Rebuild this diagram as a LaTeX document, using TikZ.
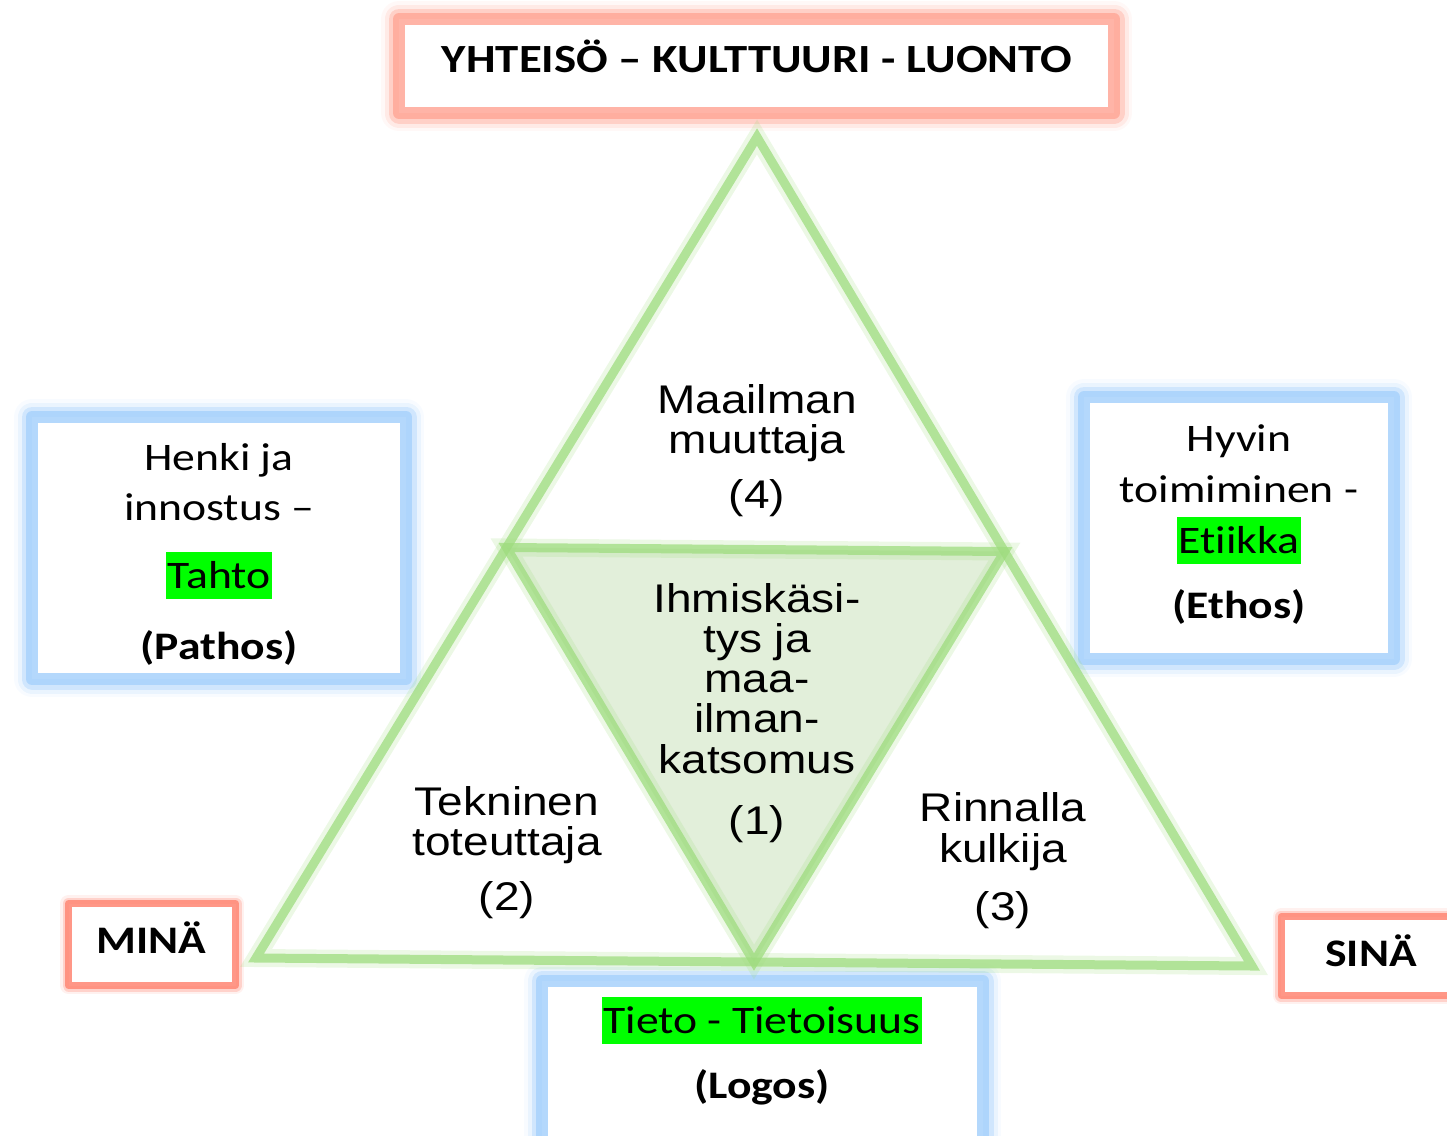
\documentclass[tikz,border=0pt]{standalone}
\usepackage{fontspec}
\setmainfont{Carlito}[FakeStretch=1.17, Ligatures=NoCommon]
\newfontfamily\trifont{Liberation Sans}[FakeStretch=1.15]
\usetikzlibrary{calc}

\definecolor{glowred}{RGB}{255,168,152}
\definecolor{edgered}{RGB}{255,140,122}
\definecolor{glowblue}{RGB}{168,210,252}
\definecolor{greenline}{RGB}{158,220,126}
\definecolor{innerfill}{RGB}{226,239,218}
\definecolor{hlgreen}{RGB}{0,255,0}

% green marker behind a word
\newcommand{\hlt}[1]{{\setlength{\fboxsep}{0pt}\colorbox{hlgreen}{\kern2pt\rule[-11pt]{0pt}{47pt}#1\kern2pt}}}

\begin{document}
\begin{tikzpicture}[x=1pt, y=-1pt,
    glowbox/.style={fill=white, line width=12pt, line join=round, draw opacity=.85,
        preaction={draw=#1, line width=36pt, draw opacity=.08, line join=round},
        preaction={draw=#1, line width=29pt, draw opacity=.18, line join=round},
        preaction={draw=#1, line width=21pt, draw opacity=.4, line join=round},
        draw=#1},
    thinbox/.style={fill=white, draw=edgered, line width=7pt, line join=round, draw opacity=.9,
        preaction={draw=edgered, line width=17pt, draw opacity=.12, line join=round},
        preaction={draw=edgered, line width=12pt, draw opacity=.3, line join=round}},
    boxtext/.style={anchor=base, inner sep=0pt, font=\fontsize{39}{47}\selectfont},
    tritext/.style={anchor=base, inner sep=0pt, font=\trifont\fontsize{40}{48}\selectfont},
    triline/.style={draw=greenline, line width=9pt, line join=miter, draw opacity=.75,
        preaction={draw=greenline, line width=18pt, draw opacity=.2}}]

    \useasboundingbox (0,0) rectangle (1447,1135);

    % Boxes round the triangle
    \node[glowbox=glowred, minimum width=715pt, minimum height=94pt] (topbox) at (756.5,66) {};
    \node[glowbox=glowblue, minimum width=374pt, minimum height=262pt] (pathosbox) at (219,548) {};
    \node[glowbox=glowblue, minimum width=310pt, minimum height=262pt] (ethosbox) at (1239,528) {};
    \node[glowbox=glowblue, minimum width=441pt, minimum height=186pt] (logosbox) at (762.5,1074) {};
    \node[thinbox, minimum width=167pt, minimum height=82pt] (minabox) at (152,944.5) {};
    \node[thinbox, minimum width=193pt, minimum height=79pt] (sinabox) at (1377.5,956) {};

    % Triangle and its middle part
    \coordinate (A) at (757,137);
    \coordinate (B) at (256,958);
    \coordinate (C) at (1252,966);
    \coordinate (ab) at ($(A)!.5!(B)$);
    \coordinate (ac) at ($(A)!.5!(C)$);
    \coordinate (bc) at ($(B)!.5!(C)$);
    \fill[innerfill] (ab) -- (ac) -- (bc) -- cycle;
    \draw[triline] (A) -- (B) -- (C) -- cycle;
    \draw[triline] (ab) -- (ac) -- (bc) -- cycle;

    % Texts in the boxes
    \node[boxtext, font=\fontsize{40}{48}\selectfont\bfseries] (toptext) at (757,72) {YHTEISÖ – KULTTUURI - LUONTO};
    \node[boxtext, font=\fontsize{39}{47}\selectfont\bfseries] (mina) at (151,953) {MINÄ};
    \node[boxtext, font=\fontsize{39}{47}\selectfont\bfseries] (sina) at (1371,966) {SINÄ};

    \foreach \y/\txt [count=\i] in {470/Henki ja, 520/innostus –, 588/\hlt{Tahto}, 659/\textbf{(Pathos)}}
        \node[boxtext] (pathos\i) at (219,\y) {\txt};
    \foreach \y/\txt [count=\i] in {451/Hyvin, 502/toimiminen -, 553/\hlt{Etiikka}, 618/\textbf{(Ethos)}}
        \node[boxtext] (ethos\i) at (1239,\y) {\txt};
    \foreach \y/\txt [count=\i] in {1033/\hlt{Tieto - Tietoisuus}, 1098/\textbf{(Logos)}}
        \node[boxtext] (logos\i) at (762,\y) {\txt};

    % Texts in the four parts
    \foreach \y/\txt [count=\i] in {413/Maailman, 453/muuttaja, 508/(4)}
        \node[tritext] (maailma\i) at (757,\y) {\txt};
    \foreach \y/\txt [count=\i] in {612/Ihmiskäsi-, 652/tys ja, 692/maa-, 732/ilman-, 773/katsomus, 834/(1)}
        \node[tritext] (ihmis\i) at (757,\y) {\txt};
    \foreach \y/\txt [count=\i] in {815/Tekninen, 855/toteuttaja, 910/(2)}
        \node[tritext] (tekninen\i) at (507,\y) {\txt};
    \foreach \y/\txt [count=\i] in {821/Rinnalla, 862/kulkija, 920/(3)}
        \node[tritext] (rinnalla\i) at (1003,\y) {\txt};

\end{tikzpicture}
\end{document}
